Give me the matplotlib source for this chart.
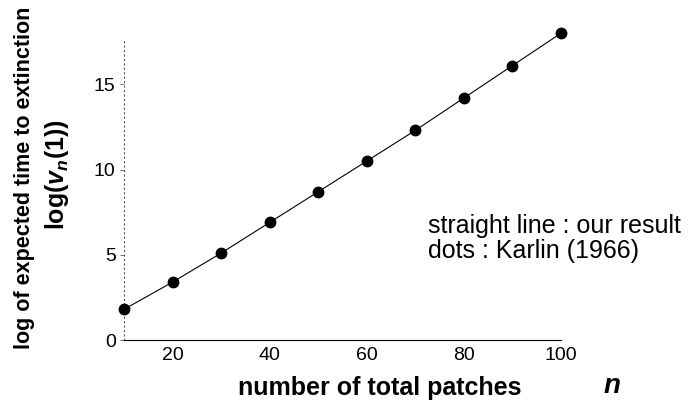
import matplotlib
matplotlib.use('Agg')
import matplotlib.pyplot as plt

plt.rcParams['font.family'] = ['Liberation Sans', 'DejaVu Sans']
plt.rcParams['mathtext.fontset'] = 'custom'
plt.rcParams['mathtext.rm'] = 'Liberation Sans:bold'
plt.rcParams['mathtext.it'] = 'Liberation Sans:italic:bold'
plt.rcParams['mathtext.bf'] = 'Liberation Sans:bold'

# ── data ──
patches = [10, 20, 30, 40, 50, 60, 70, 80, 90, 100]
karlin_dots = [1.8, 3.4, 5.1, 6.9, 8.7, 10.5, 12.3, 14.2, 16.1, 18.0]
our_line = [1.8, 3.4, 5.1, 6.9, 8.7, 10.5, 12.3, 14.2, 16.1, 18.0]
x_ticks = [20, 40, 60, 80, 100]
y_ticks = [0, 5, 10, 15]

fig = plt.figure(figsize=(6.91, 4.09), dpi=100)
ax = fig.add_axes([0.1795, 0.1687, 0.632, 0.733])

ax.plot(patches, our_line, '-', color='black', lw=0.8, clip_on=False, zorder=2)
ax.plot(patches, karlin_dots, 'o', color='black', ms=7.5, clip_on=False, zorder=3)

ax.set_xlim(10, 100)
ax.set_ylim(0, 17.6)
ax.set_xticks(x_ticks)
ax.set_yticks(y_ticks)
ax.tick_params(axis='x', length=0, pad=5, labelsize=14)
ax.tick_params(axis='y', length=3, width=0.6, pad=3, labelsize=14, color='#555')

for side in ('top', 'right'):
    ax.spines[side].set_visible(False)
ax.spines['left'].set_linestyle((0, (1, 3)))
ax.spines['left'].set_color('#555')
ax.spines['left'].set_linewidth(0.8)
ax.spines['bottom'].set_color('black')
ax.spines['bottom'].set_linewidth(0.8)

ax.text(428 / 691, 1 - 226 / 409, 'straight line : our result',
        transform=fig.transFigure, fontsize=18, ha='left', va='center')
ax.text(428 / 691, 1 - 251 / 409, 'dots : Karlin (1966)',
        transform=fig.transFigure, fontsize=18, ha='left', va='center')

fig.text(25 / 691, 1 - 178 / 409, 'log of expected time to extinction', rotation=90,
         ha='center', va='center', fontsize=15.5, fontweight='bold')
fig.text(57 / 691, 1 - 175 / 409, r'log($v_{n}$(1))', rotation=90,
         ha='center', va='center', fontsize=18, fontweight='bold')

fig.text(380 / 691, 1 - 388 / 409, 'number of total patches', ha='center', va='center',
         fontsize=18, fontweight='bold')
fig.text(612 / 691, 1 - 386 / 409, 'n', ha='center', va='center',
         fontsize=20, fontweight='bold', fontstyle='italic')

fig.savefig('out.png', dpi=100)
